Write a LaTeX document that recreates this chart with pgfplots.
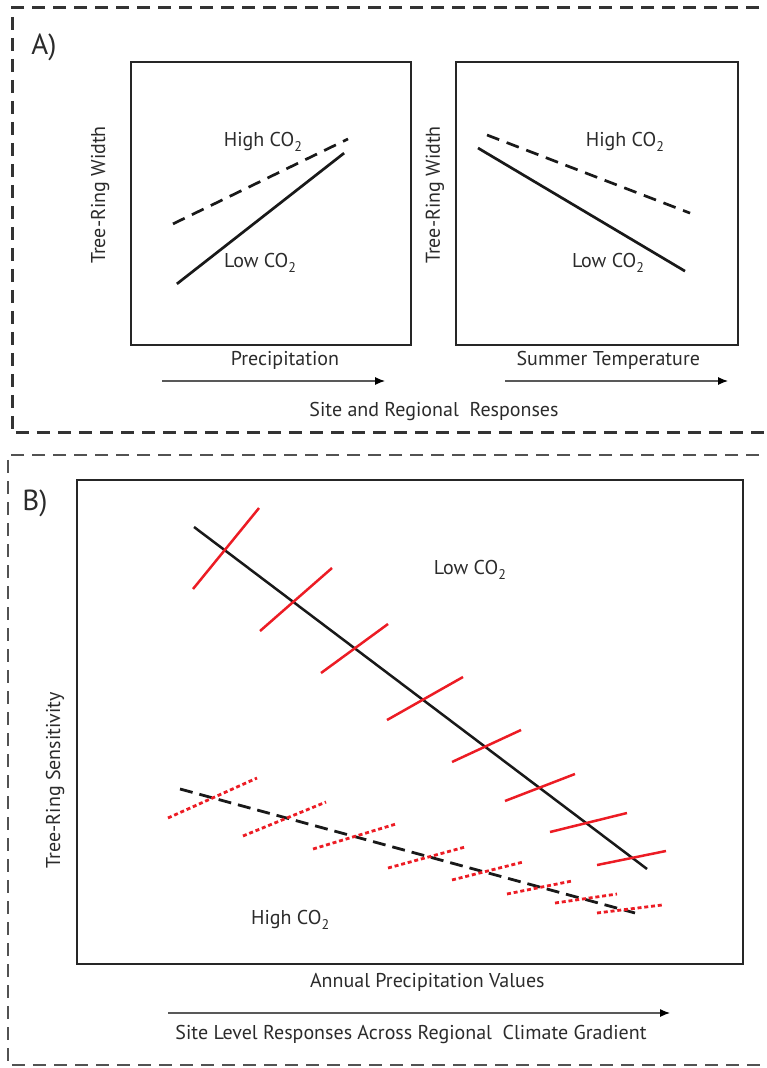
\documentclass[border=0pt]{standalone}
\usepackage{fontspec}
\setmainfont{PT Sans}
\usepackage{pgfplots}
\pgfplotsset{compat=1.18}
\usetikzlibrary{arrows.meta}
\definecolor{txt}{HTML}{2B2B2B}
\definecolor{ringred}{HTML}{EC1C24}
\definecolor{panelframe}{HTML}{333333}

\newcommand{\co}{CO\raisebox{-0.45ex}{\fontsize{7}{8}\selectfont 2}}

\pgfplotsset{
  concept/.style={
    scale only axis, anchor=south west, clip=false,
    xmin=0, xmax=10, ymin=0, ymax=10,
    xtick=\empty, ytick=\empty,
    axis line style={line width=1.45pt, black!85},
  },
  lowco/.style={black!90, line width=1.35pt},
  highco/.style={black!90, line width=1.35pt, dash pattern=on 6.5pt off 4pt},
  redsolid/.style={ringred, line width=1.25pt},
  reddot/.style={ringred, line width=1.4pt, dash pattern=on 2pt off 1.4pt},
}

\begin{document}
\begin{tikzpicture}[font=\fontsize{10}{12}\selectfont, every node/.append style={text=txt}]
\begin{scope}[x=0.5pt, y=-0.5pt]
  \useasboundingbox (0,0) rectangle (766,1068);
  % panel frames
  \draw[panelframe, line width=1.5pt, dash pattern=on 6.5pt off 4pt] (780,8) -- (12,8) -- (12,433) -- (780,433);
  \draw[panelframe!85, line width=1.3pt, dash pattern=on 6.5pt off 4pt] (780,455) -- (8,455) -- (8,1065) -- (780,1065);
  \node[font=\fontsize{14.5}{16}\selectfont] at (44,47) {A)};
  \node[font=\fontsize{14.5}{16}\selectfont] at (35,503) {B)};
  % gradient arrows
  \draw[black!65, line width=0.55pt, -{Latex[length=5pt,width=4pt,black]}] (162,381) -- (385,381);
  \draw[black!65, line width=0.55pt, -{Latex[length=5pt,width=4pt,black]}] (505,381) -- (728,381);
  \draw[black!65, line width=0.55pt, -{Latex[length=5pt,width=4pt,black]}] (168,1013) -- (670,1013);
  \node at (434,411) {Site and Regional\ \ Responses};
  \node at (411,1034) {Site Level Responses Across Regional\ \ Climate Gradient};
\end{scope}

% A) left: precipitation
\begin{axis}[concept, at={(65.5pt,-172.5pt)}, width=140pt, height=141.5pt,
  xlabel={Precipitation}, xlabel style={at={(axis description cs:0.55,-0.053)}, anchor=center},
  ylabel={Tree-Ring Width}, ylabel style={at={(axis description cs:-0.11,0.53)}, anchor=center}]
\addplot[highco] coordinates {(1.50,4.28) (7.75,7.28)};
\addplot[lowco] coordinates {(1.64,2.16) (7.61,6.78)};
\node at (axis cs:4.71,7.17) {High \co};
\node at (axis cs:4.61,2.90) {Low \co};
\end{axis}

% A) right: summer temperature
\begin{axis}[concept, at={(228pt,-172.5pt)}, width=141pt, height=141.5pt,
  xlabel={Summer Temperature}, xlabel style={at={(axis description cs:0.54,-0.053)}, anchor=center},
  ylabel={Tree-Ring Width}, ylabel style={at={(axis description cs:-0.075,0.53)}, anchor=center}]
\addplot[highco] coordinates {(1.10,7.42) (8.30,4.66)};
\addplot[lowco] coordinates {(0.78,6.96) (8.12,2.61)};
\node at (axis cs:5.99,7.17) {High \co};
\node at (axis cs:5.39,2.90) {Low \co};
\end{axis}

% B) sensitivity across the gradient
\begin{axis}[concept, at={(38.5pt,-482pt)}, width=333pt, height=242pt,
  xlabel={Annual Precipitation Values}, xlabel style={at={(axis description cs:0.526,-0.039)}, anchor=center},
  ylabel={Tree-Ring Sensitivity}, ylabel style={at={(axis description cs:-0.033,0.38)}, anchor=center}]
\addplot[lowco, line width=1.25pt] coordinates {(1.757,9.029) (8.559,1.963)};
\addplot[redsolid] coordinates {(1.742,7.748) (2.733,9.421)};
\addplot[redsolid] coordinates {(2.748,6.880) (3.829,8.182)};
\addplot[redsolid] coordinates {(3.664,6.012) (4.670,7.025)};
\addplot[redsolid] coordinates {(4.655,5.041) (5.796,5.930)};
\addplot[redsolid] coordinates {(5.631,4.174) (6.667,4.835)};
\addplot[redsolid] coordinates {(6.426,3.368) (7.477,3.926)};
\addplot[redsolid] coordinates {(7.102,2.727) (8.258,3.120)};
\addplot[redsolid] coordinates {(7.808,2.045) (8.844,2.335)};
\addplot[black!90, line width=1.4pt, dash pattern=on 6.5pt off 3.5pt] coordinates {(1.547,3.616) (8.378,1.054)};
\addplot[reddot] coordinates {(1.366,3.017) (2.703,3.843)};
\addplot[reddot] coordinates {(2.492,2.645) (3.739,3.347)};
\addplot[reddot] coordinates {(3.544,2.376) (4.790,2.893)};
\addplot[reddot] coordinates {(4.670,1.983) (5.826,2.417)};
\addplot[reddot] coordinates {(5.631,1.736) (6.697,2.107)};
\addplot[reddot] coordinates {(6.456,1.446) (7.432,1.715)};
\addplot[reddot] coordinates {(7.177,1.260) (8.108,1.446)};
\addplot[reddot] coordinates {(7.808,1.054) (8.784,1.219)};
\node at (axis cs:5.90,8.14) {Low \co};
\node at (axis cs:3.20,0.91) {High \co};
\end{axis}
\end{tikzpicture}
\end{document}
